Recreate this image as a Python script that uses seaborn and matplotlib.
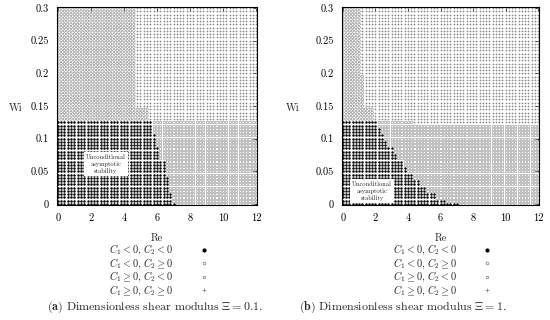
import numpy as np
import pandas as pd
import matplotlib
matplotlib.use("Agg")
import matplotlib.pyplot as plt
import seaborn as sns
from matplotlib.lines import Line2D

sns.set_theme(style="white")
plt.rcParams["font.family"] = ["cmr10", "DejaVu Serif"]
plt.rcParams["mathtext.fontset"] = "cm"
plt.rcParams["axes.unicode_minus"] = False

# ---- sampling grid of the parameter study ----
re_values = np.round(np.arange(0, 12.0001, 0.2), 4)
wi_values = np.round(np.arange(0, 0.30001, 0.005), 4)

# ---- panel (a): Xi = 0.1 ----
# C1 < 0 for Re below the limit of the Wi band (band lower edges)
a_c1_wi_edges = [0.000, 0.005, 0.020, 0.045, 0.070, 0.090, 0.110, 0.130, 0.150]
a_c1_re_limit = [7.2, 7.0, 6.8, 6.5, 6.2, 6.0, 5.8, 5.6, 4.8]
# C2 < 0 for Wi below the limit of the Re band
a_c2_re_edges = [0.0]
a_c2_wi_limit = [0.13]

# ---- panel (b): Xi = 1 ----
b_c1_wi_edges = [0.000, 0.005, 0.010, 0.020, 0.030, 0.040, 0.050, 0.060, 0.070,
                 0.080, 0.090, 0.100, 0.110, 0.120, 0.130, 0.150, 0.200]
b_c1_re_limit = [7.2, 6.4, 5.8, 5.2, 4.8, 4.4, 4.0, 3.8, 3.4,
                 3.2, 2.8, 2.6, 2.4, 2.2, 2.0, 1.4, 1.1]
b_c2_re_edges = [0.0, 4.4]
b_c2_wi_limit = [0.13, 0.125]

cats = [r"$C_1 < 0,\, C_2 < 0$", r"$C_1 < 0,\, C_2 \geq 0$",
        r"$C_1 \geq 0,\, C_2 < 0$", r"$C_1 \geq 0,\, C_2 \geq 0$"]
captions = [r"$\mathbf{(a)}$ Dimensionless shear modulus $\Xi = 0.1$.",
            r"$\mathbf{(b)}$ Dimensionless shear modulus $\Xi = 1$."]
note = "Unconditional\nasymptotic\nstability"
note_pos = [(2.9, 0.061), (1.8, 0.020)]


def classify(c1_wi_edges, c1_re_limit, c2_re_edges, c2_wi_limit):
    rows = []
    for wi in wi_values:
        k = np.searchsorted(c1_wi_edges, wi + 1e-9) - 1
        re_lim = c1_re_limit[k]
        for re in re_values:
            j = np.searchsorted(c2_re_edges, re + 1e-9) - 1
            wi_lim = c2_wi_limit[j]
            c1neg = re < re_lim - 1e-9
            c2neg = wi < wi_lim - 1e-9
            idx = (0 if c2neg else 1) if c1neg else (2 if c2neg else 3)
            rows.append((re, wi, idx))
    return pd.DataFrame(rows, columns=["Re", "Wi", "cls"])


panels = [classify(a_c1_wi_edges, a_c1_re_limit, a_c2_re_edges, a_c2_wi_limit),
          classify(b_c1_wi_edges, b_c1_re_limit, b_c2_re_edges, b_c2_wi_limit)]

W, H = 550, 320
fig = plt.figure(figsize=(5.5, 3.2), dpi=100)
ax_rects = [(57, 7, 200, 198), (342, 7, 197, 198)]

styles = [
    dict(marker="o", s=3.2, color="black", edgecolor="black", linewidth=0.0),
    dict(marker="o", s=3.0, facecolor="none", edgecolor="#8a8a8a", linewidth=0.45),
    dict(marker="s", s=2.4, facecolor="none", edgecolor="#9a9a9a", linewidth=0.45),
    dict(marker="+", s=3.6, color="#8a8a8a", linewidth=0.5),
]

for p, (df, (x0, y0, w, h)) in enumerate(zip(panels, ax_rects)):
    ax = fig.add_axes([x0 / W, 1 - (y0 + h) / H, w / W, h / H])
    for c in range(4):
        sub = df[df["cls"] == c]
        sns.scatterplot(data=sub, x="Re", y="Wi", ax=ax, legend=False, **styles[c])
    ax.set_xlim(-0.05, 12.05)
    ax.set_ylim(-0.0015, 0.3015)
    ax.set_xticks(range(0, 13, 2))
    ax.set_xticklabels([str(v) for v in range(0, 13, 2)])
    yt = [0, 0.05, 0.1, 0.15, 0.2, 0.25, 0.3]
    ax.set_yticks(yt)
    ax.set_yticklabels(["0", "0.05", "0.1", "0.15", "0.2", "0.25", "0.3"])
    ax.tick_params(direction="in", length=3, width=0.6, top=True, right=True,
                   labelsize=7.5, pad=6, colors="black")
    for sp in ax.spines.values():
        sp.set_color("black")
        sp.set_linewidth(0.8)
    ax.set_xlabel("Re", fontsize=7.5)
    ax.xaxis.set_label_coords(0.5, -0.145)
    ax.set_ylabel("Wi", fontsize=7.5, rotation=0, ha="center", va="center")
    ax.yaxis.set_label_coords(-0.205 if p == 0 else -0.249, 0.49)
    ax.text(note_pos[p][0], note_pos[p][1], note, fontsize=4.6, ha="center",
            va="center", linespacing=1.25,
            bbox=dict(facecolor="white", edgecolor="none", pad=1.5), zorder=5)

    handles = [Line2D([], [], linestyle="none", marker="o", markersize=2.0,
                      markerfacecolor="black", markeredgecolor="black"),
               Line2D([], [], linestyle="none", marker="o", markersize=2.0,
                      markerfacecolor="none", markeredgecolor="#777", markeredgewidth=0.5),
               Line2D([], [], linestyle="none", marker="s", markersize=1.8,
                      markerfacecolor="none", markeredgecolor="#777", markeredgewidth=0.5),
               Line2D([], [], linestyle="none", marker="+", markersize=2.2,
                      markeredgecolor="#777", markeredgewidth=0.5)]
    leg = ax.legend(handles, cats, loc="center", bbox_to_anchor=(0.51, -0.33),
                    frameon=False, markerfirst=False, fontsize=7.4, handlelength=1.0,
                    handletextpad=2.4, labelspacing=-0.08, borderpad=0,
                    handleheight=0.5)

fig.text(155 / W, 1 - 307 / H, captions[0], fontsize=8.6, ha="center", va="center")
fig.text(403 / W, 1 - 307 / H, captions[1], fontsize=8.6, ha="center", va="center")

fig.savefig("out.png", dpi=100)
